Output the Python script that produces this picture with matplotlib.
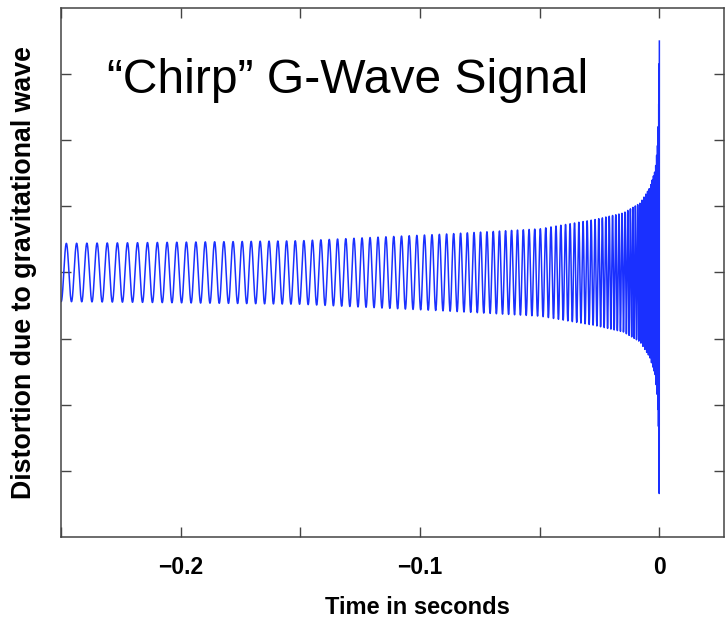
import numpy as np
import matplotlib

# Use non-interactive backend
matplotlib.use("Agg")

import matplotlib.pyplot as plt

# ------------------ data ------------------

# envelope of the signal (half peak-to-peak, in y units)
env_t = [-0.25, -0.22, -0.15, -0.09, -0.05, -0.027, -0.015, -0.008,
         -0.004, -0.0017, -0.0008, -0.0003, -0.0001, 0.0]
env_amp = [0.44, 0.45, 0.48, 0.58, 0.66, 0.80, 0.90, 1.05,
           1.28, 1.55, 1.90, 2.40, 3.20, 3.50]

# oscillation frequency (Hz), from the spacing of the peaks
freq_t = [-0.25, -0.22, -0.15, -0.096, -0.05, -0.029, -0.015, -0.008,
          -0.004, -0.0017, -0.0008, -0.0003, 0.0]
freq_hz = [232, 238, 278, 318, 430, 600, 800, 1100,
           1500, 2200, 3000, 4500, 10000]

x_ticks = [-0.25, -0.2, -0.15, -0.1, -0.05, 0.0]
x_tick_labels = ["", "\u22120.2", "", "\u22120.1", "", "0"]
y_ticks = [-3, -2, -1, 0, 1, 2, 3]

title_text = "\u201cChirp\u201d G-Wave Signal"
x_label = "Time in seconds"
y_label = "Distortion due to gravitational wave"

# ------------------ build waveform ------------------

t = np.linspace(env_t[0], 0.0, 200000)
amp = np.interp(t, env_t, env_amp)
freq = np.interp(t, freq_t, freq_hz)
phase = np.cumsum(2 * np.pi * freq * np.gradient(t))
phase -= phase[-1]
signal = amp * np.cos(phase)

# ------------------ plot ------------------

plt.rcParams["font.family"] = ["Liberation Sans", "DejaVu Sans"]

fig = plt.figure(figsize=(7.25, 6.21), dpi=100)
ax = fig.add_axes([0.0841, 0.1353, 0.9145, 0.8518])

ax.plot(t, signal, color="#1a30ff", linewidth=1.1)

ax.set_xlim(-0.25, 0.027)
ax.set_ylim(-4, 4)

ax.set_xticks(x_ticks)
ax.set_xticklabels(x_tick_labels)
ax.set_yticks(y_ticks)
ax.set_yticklabels([])

ax.tick_params(direction="in", length=7.5, width=1.0, color="#444444",
               top=True, right=True, labelsize=16.5, pad=14)
for lbl in ax.get_xticklabels():
    lbl.set_fontweight("bold")

for spine in ax.spines.values():
    spine.set_color("#444444")
    spine.set_linewidth(1.1)

ax.set_xlabel(x_label, fontsize=17, fontweight="bold")
ax.set_ylabel(y_label, fontsize=19.3, fontweight="bold")
# label positions, in axes coordinates (the original frame runs past the right edge)
ax.xaxis.set_label_coords((417 - 61) / 663, -(596 - 537) / 529)
ax.yaxis.set_label_coords((37 - 61) / 663, 0.5)

fig.text(107 / 725, 1 - 93 / 621, title_text, fontsize=34.6,
         ha="left", va="baseline")

fig.savefig("out.png", dpi=100)
plt.close(fig)
